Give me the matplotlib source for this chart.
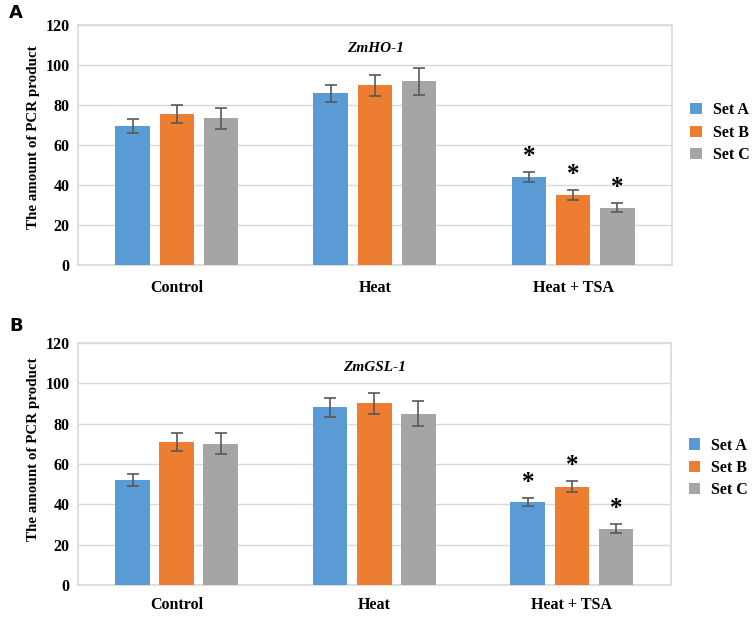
import matplotlib
matplotlib.use("Agg")
import matplotlib.pyplot as plt
import numpy as np

categories = ["Control", "Heat", "Heat + TSA"]
series_names = ["Set A", "Set B", "Set C"]

ho1_means = {"Set A": [69.5, 85.8, 43.8], "Set B": [75.2, 89.8, 34.8], "Set C": [73.2, 91.8, 28.6]}
ho1_err = {"Set A": [3.5, 4.3, 2.6], "Set B": [4.5, 5.3, 2.5], "Set C": [5.2, 6.7, 2.3]}
ho1_sig = {"Set A": [False, False, True], "Set B": [False, False, True], "Set C": [False, False, True]}

gsl1_means = {"Set A": [52.0, 88.0, 41.0], "Set B": [70.8, 90.0, 48.7], "Set C": [70.0, 85.0, 27.8]}
gsl1_err = {"Set A": [2.8, 4.5, 2.1], "Set B": [4.3, 5.3, 2.8], "Set C": [5.2, 6.0, 2.2]}
gsl1_sig = {"Set A": [False, False, True], "Set B": [False, False, True], "Set C": [False, False, True]}

colors = {"Set A": "#5B9BD5", "Set B": "#ED7D31", "Set C": "#A5A5A5"}
yticks = [0, 20, 40, 60, 80, 100, 120]

serif = ["Liberation Serif", "DejaVu Serif"]

fig = plt.figure(figsize=(7.56, 6.19), dpi=100)

def draw(ax, means, errs, sig, title, legend_y, ylabel_y, xpad):
    x = np.arange(len(categories))
    offs = [-0.223, 0.0, 0.223]
    w = 0.175
    for s, off in zip(series_names, offs):
        ax.bar(x + off, means[s], w, color=colors[s], label=s, zorder=3,
               yerr=errs[s], error_kw=dict(ecolor="#595959", elinewidth=1.2, capsize=4, capthick=1.2, zorder=4))
        for xi, m, e, sg in zip(x + off, means[s], errs[s], sig[s]):
            if sg:
                ax.annotate("*", (xi, m + e), xytext=(0, 3), textcoords="offset points",
                            ha="center", va="bottom", fontsize=18, fontweight="bold", family=serif)
    ax.set_xlim(-0.5, 2.5)
    ax.set_ylim(0, 120)
    ax.set_yticks(yticks)
    ax.set_yticklabels([str(t) for t in yticks], fontsize=11.5, fontweight="bold", family=serif)
    ax.set_xticks(x)
    ax.set_xticklabels(categories, fontsize=11.5, fontweight="bold", family=serif)
    ax.tick_params(axis="both", length=0, pad=6)
    ax.tick_params(axis="x", pad=xpad)
    ax.grid(axis="y", color="#D9D9D9", linewidth=1, zorder=0)
    for sp in ax.spines.values():
        sp.set_color("#D9D9D9")
        sp.set_linewidth(1.2)
    ax.set_ylabel("The amount of PCR product", fontsize=10.8, fontweight="bold", family=serif)
    ax.yaxis.set_label_coords(-0.064, ylabel_y)
    ax.text(0.5, 0.9, title, transform=ax.transAxes, ha="center", va="center",
            fontsize=11, fontweight="bold", style="italic", family=serif)
    ax.legend(loc="center left", bbox_to_anchor=(1.02, legend_y), frameon=False,
              prop={"family": serif, "weight": "bold", "size": 11.5},
              handlelength=0.7, handleheight=0.7, handletextpad=0.7, labelspacing=0.4,
              borderaxespad=0.0)

ax1 = fig.add_axes([0.103, 0.572, 0.786, 0.388])
draw(ax1, ho1_means, ho1_err, ho1_sig, "ZmHO-1", 0.55, 0.53, 11)
ax2 = fig.add_axes([0.103, 0.055, 0.784, 0.391])
draw(ax2, gsl1_means, gsl1_err, gsl1_sig, "ZmGSL-1", 0.483, 0.56, 9)

fig.text(0.012, 0.979, "A", fontsize=13, fontweight="bold", ha="left", va="center")
fig.text(0.012, 0.474, "B", fontsize=13, fontweight="bold", ha="left", va="center")

fig.savefig("out.png", dpi=100)
